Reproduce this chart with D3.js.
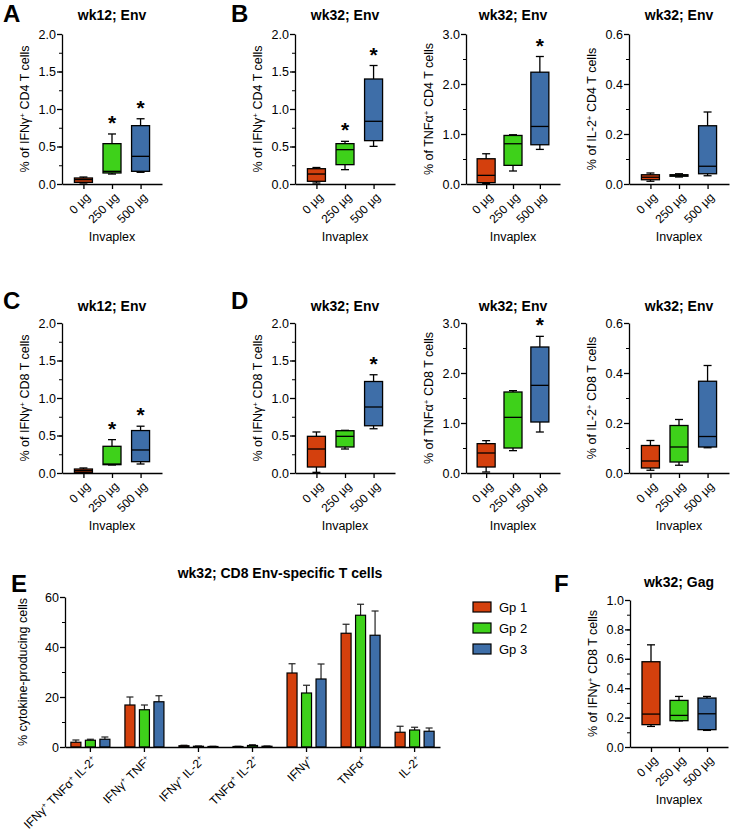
<!DOCTYPE html>
<html>
<head>
<meta charset="utf-8">
<script src="https://cdn.jsdelivr.net/npm/d3@7"></script>
<style>
body{margin:0;background:#fff;}
svg text{font-family:"Liberation Sans",Arial,sans-serif;fill:#000;}
</style>
</head>
<body>
<svg id="fig" width="731" height="838"></svg>
<script>
// ---- data ----
var doses = ["0 µg", "250 µg", "500 µg"];
var groups = ["Gp 1", "Gp 2", "Gp 3"];
var colors = ["#d4400d", "#3ed11a", "#3e6ea8"];

// box stats per dose: [min, q1, median, q3, max]
var wk12Cd4Ifng = [[0.013, 0.022, 0.058, 0.080, 0.093], [0.133, 0.147, 0.169, 0.538, 0.667], [0.156, 0.169, 0.369, 0.778, 0.870]];
var wk32Cd4Ifng = [[0.013, 0.036, 0.133, 0.204, 0.220], [0.191, 0.258, 0.458, 0.538, 0.569], [0.502, 0.578, 0.836, 1.400, 1.580]];
var wk32Cd4Tnfa = [[0.007, 0.027, 0.173, 0.505, 0.605], [0.260, 0.373, 0.805, 0.971, 0.985], [0.692, 0.785, 1.151, 2.236, 2.550]];
var wk32Cd4Il2  = [[0.011, 0.017, 0.027, 0.037, 0.044], [0.028, 0.031, 0.035, 0.037, 0.041], [0.033, 0.041, 0.071, 0.233, 0.288]];
var wk12Cd8Ifng = [[0.004, 0.009, 0.031, 0.053, 0.067], [0.107, 0.111, 0.120, 0.356, 0.445], [0.120, 0.151, 0.307, 0.566, 0.624]];
var wk32Cd8Ifng = [[0.009, 0.080, 0.320, 0.489, 0.547], [0.320, 0.347, 0.489, 0.564, 0.569], [0.590, 0.630, 0.880, 1.220, 1.310]];
var wk32Cd8Tnfa = [[0.020, 0.120, 0.400, 0.587, 0.647], [0.447, 0.500, 1.113, 1.620, 1.647], [0.820, 1.020, 1.753, 2.520, 2.733]];
var wk32Cd8Il2  = [[0.011, 0.020, 0.048, 0.110, 0.130], [0.031, 0.044, 0.104, 0.190, 0.214], [0.101, 0.104, 0.146, 0.367, 0.430]];
var wk32GagIfng = [[0.140, 0.152, 0.224, 0.580, 0.695], [0.178, 0.179, 0.215, 0.317, 0.344], [0.113, 0.118, 0.226, 0.333, 0.344]];

// significance stars per dose
var sigNone = [false, false, false];
var sigBoth = [false, true, true];
var sigHigh = [false, false, true];

// panel E: mean and upper error (SEM)
var eCategories = ["IFNγ+ TNFα+ IL-2+", "IFNγ+ TNF+", "IFNγ+ IL-2+", "TNFα+ IL-2+", "IFNγ+", "TNFα+", "IL-2+"];
var eGp1 = [1.9, 16.8, 0.5, 0.2, 29.6, 45.5, 5.9];
var eGp2 = [2.7, 14.9, 0.3, 0.6, 21.6, 52.7, 6.8];
var eGp3 = [3.1, 18.1, 0.2, 0.3, 27.2, 44.7, 6.3];
var eGp1Err = [0.9, 3.2, 0.2, 0.1, 3.7, 3.6, 2.4];
var eGp2Err = [0.4, 1.9, 0.1, 0.3, 3.1, 4.4, 1.1];
var eGp3Err = [0.9, 2.4, 0.1, 0.1, 6.0, 9.7, 1.3];

var svg = d3.select("#fig");

// panel letters
[["A", 3, 22], ["B", 231, 22], ["C", 3, 309], ["D", 231, 309], ["E", 11, 592], ["F", 554, 592]].forEach(function(l){
    svg.append("text").attr("x", l[1]).attr("y", l[2])
        .style("font-size", "24px").style("font-weight", "bold").text(l[0]);
});

// adds text where every "+" becomes a small raised plus
function addSup(sel, str){
    let parts = str.split("+");
    let shift = 0;
    parts.forEach(function(p, i){
        if(p.length){
            let t = sel.append("tspan").text(p);
            if(shift) t.attr("dy", shift);
            shift = 0;
        }
        if(i < parts.length - 1){
            sel.append("tspan").attr("dy", -4).style("font-size", "8px").text("+");
            shift = 4;
        }
    });
}

function yAxes(g, y, x0, ymax, major, minor, fmt){
    g.append("g").attr("transform", "translate(" + x0 + ",0)")
        .call(d3.axisLeft(y).tickValues(d3.range(0, ymax + 1e-9, minor)).tickFormat("").tickSize(3).tickSizeOuter(0))
        .call(s => s.select(".domain").remove());
    let ax = g.append("g").attr("transform", "translate(" + x0 + ",0)")
        .call(d3.axisLeft(y).tickValues(d3.range(0, ymax + 1e-9, major)).tickFormat(d3.format(fmt)).tickSize(5).tickSizeOuter(0));
    ax.selectAll("text").style("font-size", "12.5px").attr("x", -6);
    ax.selectAll("line,path").attr("stroke", "#000").attr("stroke-width", 1.3);
}

function boxPanel(cfg){
    let g = svg.append("g");
    let x = d3.scalePoint().domain(doses).range([cfg.x0, cfg.x1]).padding(0.75);
    let y = d3.scaleLinear().domain([0, cfg.ymax]).range([cfg.bot, cfg.top]);

    yAxes(g, y, cfg.x0, cfg.ymax, cfg.major, cfg.minor, ".1f");

    let xa = g.append("g").attr("transform", "translate(0," + cfg.bot + ")")
        .call(d3.axisBottom(x).tickSize(5).tickSizeOuter(0));
    xa.selectAll("line,path").attr("stroke", "#000").attr("stroke-width", 1.3);
    xa.selectAll("text").attr("y", 0).attr("dy", "0.35em").attr("x", 0)
        .attr("transform", "translate(4,11) rotate(-45)")
        .style("text-anchor", "end").style("font-size", "12px");

    let bw = 18, cap = 8;
    let boxes = g.selectAll(".bx").data(cfg.data).enter().append("g")
        .attr("transform", (d, i) => "translate(" + x(doses[i]) + ",0)");
    boxes.append("line").attr("y1", d => y(d[0])).attr("y2", d => y(d[4])).attr("stroke", "#000").attr("stroke-width", 1.3);
    boxes.append("line").attr("x1", -cap / 2).attr("x2", cap / 2).attr("y1", d => y(d[4])).attr("y2", d => y(d[4])).attr("stroke", "#000").attr("stroke-width", 1.3);
    boxes.append("line").attr("x1", -cap / 2).attr("x2", cap / 2).attr("y1", d => y(d[0])).attr("y2", d => y(d[0])).attr("stroke", "#000").attr("stroke-width", 1.3);
    boxes.append("rect").attr("x", -bw / 2).attr("width", bw)
        .attr("y", d => y(d[3])).attr("height", d => y(d[1]) - y(d[3]))
        .attr("fill", (d, i) => colors[i]).attr("stroke", "#000").attr("stroke-width", 1.3);
    boxes.append("line").attr("x1", -bw / 2).attr("x2", bw / 2).attr("y1", d => y(d[2])).attr("y2", d => y(d[2])).attr("stroke", "#000").attr("stroke-width", 1.3);

    cfg.data.forEach(function(d, i){
        if(cfg.sig[i]){
            g.append("text").attr("x", x(doses[i])).attr("y", y(d[4]) - 4)
                .attr("text-anchor", "middle").style("font-size", "21px").style("font-weight", "bold").text("*");
        }
    });

    let mid = (cfg.x0 + cfg.x1) / 2;
    g.append("text").attr("x", mid).attr("y", cfg.titleY).attr("text-anchor", "middle")
        .style("font-size", "14px").style("font-weight", "bold").text(cfg.title);

    let yl = g.append("text").attr("transform", "translate(" + (cfg.x0 - 33) + "," + ((cfg.top + cfg.bot) / 2) + ") rotate(-90)")
        .attr("text-anchor", "middle").style("font-size", "12.5px");
    addSup(yl, "% of " + cfg.cyto + "+ " + cfg.cell + " T cells");

    g.append("text").attr("x", mid).attr("y", cfg.bot + 57).attr("text-anchor", "middle")
        .style("font-size", "12.5px").text("Invaplex");
}

var rowTop = [34, 323], rowBot = [184, 473], titleY = [20, 311];
var cols = [[62, 162], [295, 395], [466, 560], [629, 729]];

var boxPanels = [
    {data: wk12Cd4Ifng, sig: sigBoth, c: 0, r: 0, ymax: 2, major: 0.5, minor: 0.25, title: "wk12; Env", cyto: "IFNγ", cell: "CD4"},
    {data: wk32Cd4Ifng, sig: sigBoth, c: 1, r: 0, ymax: 2, major: 0.5, minor: 0.25, title: "wk32; Env", cyto: "IFNγ", cell: "CD4"},
    {data: wk32Cd4Tnfa, sig: sigHigh, c: 2, r: 0, ymax: 3, major: 1, minor: 0.5, title: "wk32; Env", cyto: "TNFα", cell: "CD4"},
    {data: wk32Cd4Il2, sig: sigNone, c: 3, r: 0, ymax: 0.6, major: 0.2, minor: 0.1, title: "wk32; Env", cyto: "IL-2", cell: "CD4"},
    {data: wk12Cd8Ifng, sig: sigBoth, c: 0, r: 1, ymax: 2, major: 0.5, minor: 0.25, title: "wk12; Env", cyto: "IFNγ", cell: "CD8"},
    {data: wk32Cd8Ifng, sig: sigHigh, c: 1, r: 1, ymax: 2, major: 0.5, minor: 0.25, title: "wk32; Env", cyto: "IFNγ", cell: "CD8"},
    {data: wk32Cd8Tnfa, sig: sigHigh, c: 2, r: 1, ymax: 3, major: 1, minor: 0.5, title: "wk32; Env", cyto: "TNFα", cell: "CD8"},
    {data: wk32Cd8Il2, sig: sigNone, c: 3, r: 1, ymax: 0.6, major: 0.2, minor: 0.1, title: "wk32; Env", cyto: "IL-2", cell: "CD8"}
];
boxPanels.forEach(function(p){
    p.x0 = cols[p.c][0]; p.x1 = cols[p.c][1];
    p.top = rowTop[p.r]; p.bot = rowBot[p.r]; p.titleY = titleY[p.r];
    boxPanel(p);
});

// panel F
boxPanel({data: wk32GagIfng, sig: sigNone, x0: 630, x1: 728, top: 600, bot: 747, titleY: 587,
    ymax: 1, major: 0.2, minor: 0.1, title: "wk32; Gag", cyto: "IFNγ", cell: "CD8"});

// panel E: grouped bars
(function(){
    let g = svg.append("g");
    let x0 = 65, x1 = 440, top = 597, bot = 747;
    let x = d3.scaleBand().domain(eCategories).range([x0, x1]).paddingInner(0.2).paddingOuter(0.07);
    let xg = d3.scaleBand().domain(groups).range([-19.5, 19.5]).paddingInner(0.31);
    let y = d3.scaleLinear().domain([0, 60]).range([bot, top]);
    let means = [eGp1, eGp2, eGp3], errs = [eGp1Err, eGp2Err, eGp3Err];

    yAxes(g, y, x0, 60, 20, 10, "d");

    let rows = [];
    eCategories.forEach(function(c, ci){
        groups.forEach(function(gp, gi){
            rows.push({cat: c, gp: gp, gi: gi, v: means[gi][ci], e: errs[gi][ci]});
        });
    });
    let cx = d => x(d.cat) + x.bandwidth() / 2 + xg(d.gp) + xg.bandwidth() / 2;

    g.selectAll(".err").data(rows).enter().append("line")
        .attr("x1", cx).attr("x2", cx).attr("y1", d => y(d.v)).attr("y2", d => y(d.v + d.e))
        .attr("stroke", "#222").attr("stroke-width", 1.2);
    g.selectAll(".cap").data(rows).enter().append("line")
        .attr("x1", d => cx(d) - 3.5).attr("x2", d => cx(d) + 3.5).attr("y1", d => y(d.v + d.e)).attr("y2", d => y(d.v + d.e))
        .attr("stroke", "#222").attr("stroke-width", 1.2);
    g.selectAll(".bar").data(rows).enter().append("rect")
        .attr("x", d => x(d.cat) + x.bandwidth() / 2 + xg(d.gp)).attr("width", xg.bandwidth())
        .attr("y", d => y(d.v)).attr("height", d => bot - y(d.v))
        .attr("fill", d => colors[d.gi]).attr("stroke", "#000").attr("stroke-width", 1.2);

    let xa = g.append("g").attr("transform", "translate(0," + bot + ")")
        .call(d3.axisBottom(x).tickSize(5).tickSizeOuter(0));
    xa.selectAll("line,path").attr("stroke", "#000").attr("stroke-width", 1.3);
    xa.selectAll("text").each(function(d){
        let t = d3.select(this).text("");
        addSup(t, d);
    }).attr("y", 0).attr("dy", "0.35em").attr("x", 0)
        .attr("transform", "translate(4,11) rotate(-45)")
        .style("text-anchor", "end").style("font-size", "12px");

    g.append("text").attr("transform", "translate(27," + ((top + bot) / 2) + ") rotate(-90)")
        .attr("text-anchor", "middle").style("font-size", "12.5px").text("% cytokine-producing cells");

    g.append("text").attr("x", 280).attr("y", 578).attr("text-anchor", "middle")
        .style("font-size", "14px").style("font-weight", "bold").text("wk32; CD8 Env-specific T cells");

    let leg = g.selectAll(".leg").data(groups).enter().append("g")
        .attr("transform", (d, i) => "translate(473," + (602 + i * 21) + ")");
    leg.append("rect").attr("width", 18).attr("height", 10)
        .attr("fill", (d, i) => colors[i]).attr("stroke", "#000").attr("stroke-width", 1.2);
    leg.append("text").attr("x", 26).attr("y", 5).attr("dy", "0.35em").style("font-size", "13px").text(d => d);
})();
</script>
</body>
</html>
